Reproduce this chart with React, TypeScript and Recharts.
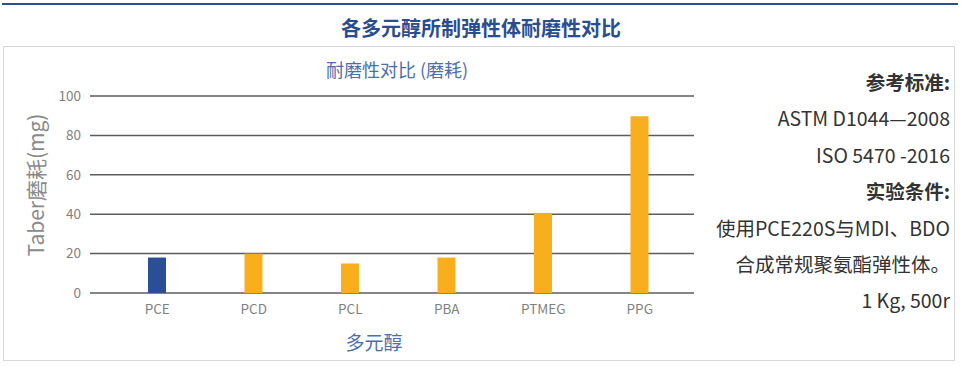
import { BarChart, Bar, XAxis, YAxis, CartesianGrid, Cell } from "recharts";

const polyols = ["PCE", "PCD", "PCL", "PBA", "PTMEG", "PPG"];
const abrasionMg = [18, 20, 15, 18, 40.4, 89.7];
const yTicks = [0, 20, 40, 60, 80, 100];
const notes = [
  { text: "参考标准:", bold: true },
  { text: "ASTM D1044—2008", bold: false },
  { text: "ISO 5470 -2016", bold: false },
  { text: "实验条件:", bold: true },
  { text: "使用PCE220S与MDI、BDO", bold: false },
  { text: "合成常规聚氨酯弹性体。", bold: false },
  { text: "1 Kg, 500r", bold: false },
];

const data = polyols.map((name, i) => ({ name, value: abrasionMg[i] }));

const FONT = '"Noto Sans CJK SC", "Noto Sans", sans-serif';
const BLUE = "#2b4f96";
const ORANGE = "#f9ae1e";

export default function App() {
  return (
    <div style={{ position: "relative", width: 962, height: 366, fontFamily: FONT, background: "#fff" }}>
      <style>{"body{margin:0}"}</style>
      {/* top rule + heading */}
      <div style={{ position: "absolute", left: 2, top: 3, width: 956, height: 2, background: "#2d4f8f" }} />
      <div style={{ position: "absolute", left: 0, top: 14, width: 962, textAlign: "center", fontSize: 20, fontWeight: 700, color: "#2a4d8f", lineHeight: "28px" }}>
        各多元醇所制弹性体耐磨性对比
      </div>
      {/* panel */}
      <div style={{ position: "absolute", left: 3, top: 46, width: 952, height: 315, border: "1px solid #d9d9d9", boxSizing: "border-box" }} />

      <div style={{ position: "absolute", left: 0, top: 0 }}>
        <BarChart width={962} height={366} data={data} margin={{ top: 96, right: 268, left: 30, bottom: 43 }}>
          <CartesianGrid vertical={false} stroke="#5c5c5c" strokeWidth={1.5} />
          <XAxis
            dataKey="name"
            axisLine={false}
            tickLine={false}
            height={30}
            padding={{ left: 19, right: 6 }}
            tick={{ fill: "#7f7f7f", fontSize: 13.5, fontFamily: FONT }}
            tickMargin={5}
          />
          <YAxis
            width={60}
            domain={[0, 100]}
            ticks={yTicks}
            axisLine={false}
            tickLine={false}
            tickMargin={3}
            tick={{ fill: "#7f7f7f", fontSize: 13.5, fontFamily: FONT }}
          />
          <Bar dataKey="value" barSize={18} isAnimationActive={false}>
            {data.map((d) => (
              <Cell key={d.name} fill={d.name === "PCE" ? BLUE : ORANGE} />
            ))}
          </Bar>
        </BarChart>
      </div>

      {/* chart labels */}
      <div style={{ position: "absolute", left: 297, top: 56, width: 200, textAlign: "center", fontSize: 18, color: "#4a6fae", lineHeight: "26px" }}>
        耐磨性对比 (磨耗)
      </div>
      <div style={{ position: "absolute", left: 274, top: 328, width: 200, textAlign: "center", fontSize: 19, color: "#4a6fae", lineHeight: "28px" }}>
        多元醇
      </div>
      <div
        style={{
          position: "absolute",
          left: 35 - 100,
          top: 185 - 14,
          width: 200,
          textAlign: "center",
          fontSize: 21,
          color: "#8a8a8a",
          lineHeight: "28px",
          transform: "rotate(-90deg)",
        }}
      >
        Taber磨耗(mg)
      </div>

      {/* notes */}
      {notes.map((n, i) => (
        <div
          key={i}
          style={{
            position: "absolute",
            right: 12,
            top: 82 + i * 36.4 - 14,
            whiteSpace: "nowrap",
            fontSize: 19.5,
            lineHeight: "28px",
            fontWeight: n.bold ? 700 : 400,
            color: "#333",
          }}
        >
          {n.text}
        </div>
      ))}
    </div>
  );
}
